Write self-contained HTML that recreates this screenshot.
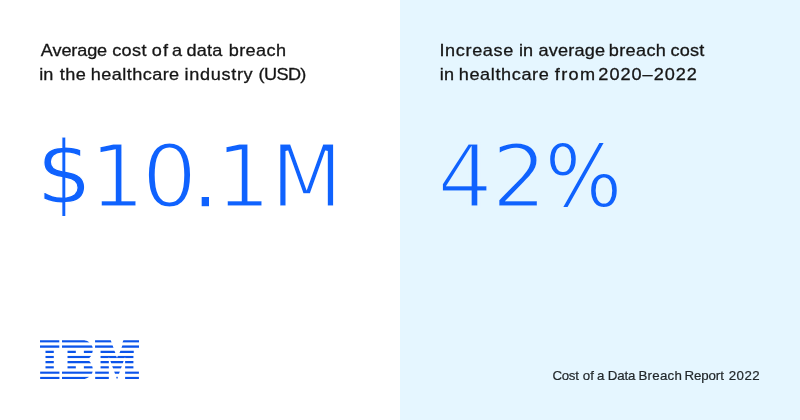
<!DOCTYPE html>
<html lang="en">
<head>
<meta charset="utf-8">
<title>Cost of a Data Breach Report 2022</title>
<style>
  html, body { margin: 0; padding: 0; }
  body {
    width: 800px; height: 420px; overflow: hidden; position: relative;
    background: #ffffff;
    font-family: "Liberation Sans", sans-serif;
    -webkit-font-smoothing: antialiased;
  }
  .panel { position: absolute; top: 0; width: 400px; height: 420px; }
  .left  { left: 0; background: #ffffff; }
  .right { left: 400px; background: #e5f6ff; }
  .heading {
    position: absolute; left: 40px; top: 39px; margin: 0;
    font-size: 17px; line-height: 24px; font-weight: 400;
    color: #161616; white-space: nowrap; will-change: transform;
    transform: scaleX(1.065); transform-origin: 0 0;
    -webkit-text-stroke: 0.3px #161616;
  }
  .heading > span { display: block; }
  .stat {
    position: absolute; left: 37.3px; top: 126.75px; margin: 0;
    font-family: "DejaVu Sans", "Liberation Sans", sans-serif;
    font-size: 87.2px; line-height: 100px; font-weight: 400;
    color: #0f62fe; white-space: nowrap;
    letter-spacing: -3.26px;
    -webkit-text-stroke: 2.8px #ffffff;
  }
  .stat span { position: relative; }
  .stat .cur { -webkit-text-stroke-width: 1.2px; left: -0.7px; top: -3.6px; }
  .stat .dot { letter-spacing: -6.2px; left: -2.4px; -webkit-text-stroke-width: 1.6px; }
  .stat .em  { left: 1.1px; display: inline-block; transform: scaleX(0.955); transform-origin: 50% 50%; letter-spacing: 0; }
  .stat .two { left: 2px; }
  .stat .pct { display: inline-block; transform: scaleX(0.935); transform-origin: 50% 50%; -webkit-text-stroke-width: 1.9px; letter-spacing: 0; }
  .right .stat { -webkit-text-stroke-color: #e5f6ff; }
  .logo { position: absolute; left: 40.3px; top: 340.25px; width: 99.1px; height: 39.2px; }
  .footer {
    position: absolute; left: 152.6px; top: 366px; margin: 0;
    font-size: 13.3px; line-height: 20px; letter-spacing: -0.05px;
    color: #21272a; white-space: nowrap; will-change: transform;
    -webkit-text-stroke: 0.2px #21272a;
  }
</style>
</head>
<body>
  <section class="panel left">
    <p class="heading" id="h1"><span class="l1"><span style="letter-spacing:-0.12px;margin-left:0.79px">Average</span> <span style="letter-spacing:0.37px;margin-left:0.06px">cost</span> <span style="letter-spacing:0.92px;margin-left:-0.11px">of</span> <span style="letter-spacing:0.15px;margin-left:-1.86px">a</span> <span style="letter-spacing:0.17px;margin-left:-0.73px">data</span> <span style="letter-spacing:0.37px;margin-left:1.10px">breach</span></span>
      <span class="l2"><span style="letter-spacing:-0.15px;margin-left:-0.65px">in</span> <span style="letter-spacing:0.50px;margin-left:1.46px">the</span> <span style="letter-spacing:0.40px;margin-left:-0.69px">healthcare</span> <span style="letter-spacing:0.62px;margin-left:0.01px">industry</span> <span style="letter-spacing:-0.59px;margin-left:0.24px">(USD)</span></span></p>
    <p class="stat" id="s1"><span class="cur">$</span>10<span class="dot">.</span>1<span class="em">M</span></p>
    <svg class="logo" id="logo" viewBox="0 0 1000 400" preserveAspectRatio="none" aria-label="IBM" role="img">
      <title>IBM</title>
      <defs><clipPath id="bars"><rect x="0" y="1.30" width="1000" height="24.77"/><rect x="0" y="54.52" width="1000" height="24.77"/><rect x="0" y="107.70" width="1000" height="24.77"/><rect x="0" y="160.97" width="1000" height="24.77"/><rect x="0" y="214.19" width="1000" height="24.77"/><rect x="0" y="267.41" width="1000" height="24.77"/><rect x="0" y="320.63" width="1000" height="24.77"/><rect x="0" y="373.89" width="1000" height="24.77"/></clipPath></defs>
      <path fill="#0b54ea" clip-path="url(#bars)" d="M0,0v27.367h194.648V0H0z M222.226,0v27.367h277.383c0,0-28.333-27.367-65.859-27.367H222.226z M555.468,0v27.367h167.812L713.32,0H555.468z M842.032,0l-9.961,27.367H1000V0H842.032z M0,53.222v27.367h194.648V53.222H0z M222.226,53.261v27.328h309.57c0,0-3.616-21.062-9.922-27.328H222.226z M555.468,53.222v27.367h186.406l-9.219-27.367H555.468z M831.289,53.222l-9.219,27.367H1000V53.222H831.289z M55.468,106.405v27.406h83.711v-27.406H55.468z M277.695,106.405v27.406h83.711v-27.406H277.695z M442.773,106.405v27.406h83.711c0,0,5.312-14.473,5.312-27.406H442.773z M610.937,106.405v27.406h149.492l-9.961-27.406H610.937z M812.11,106.405l-10,27.406h144.004v-27.406H812.11z M55.468,159.666v27.367h83.711v-27.367H55.468z M277.695,159.666v27.367h214.57c0,0,17.951-13.997,23.672-27.367H277.695z M610.937,159.666v27.367h83.711v-15.234l5.312,15.234h153.34l5.703-15.234v15.234h83.711v-27.367H785.351l-8.359,23.086l-8.398-23.086H610.937z M55.468,212.888v27.367h83.711v-27.367H55.468z M277.695,212.888v27.367h238.242c-5.721-13.326-23.672-27.367-23.672-27.367H277.695z M610.937,212.888v27.367h83.711v-27.367H610.937z M709.57,212.888l10.117,27.367h114.98l9.609-27.367H709.57z M859.004,212.888v27.367h83.711v-27.367H859.004z M55.468,266.11v27.367h83.711V266.11H55.468z M277.695,266.11v27.367h83.711V266.11H277.695z M442.773,266.11v27.367h89.023c0-12.916-5.312-27.367-5.312-27.367H442.773z M610.937,266.11v27.367h83.711V266.11H610.937z M728.476,266.11l9.883,27.367h77.617l9.961-27.367H728.476z M859.004,266.11v27.367h83.711V266.11H859.004z M1.446,319.331v27.406h194.648v-27.406H1.446z M222.226,319.331v27.406h299.648c6.306-6.276,9.922-27.406,9.922-27.406H222.226z M556.914,319.331v27.406h137.734v-27.406H556.914z M747.656,319.331l10.156,27.406h38.82l9.766-27.406H747.656z M859.004,319.331v27.406h139.219v-27.406H859.004z M1.446,372.592v27.367h194.648v-27.367H1.446z M222.226,372.592v27.328H433.75c37.526,0,65.859-27.328,65.859-27.328H222.226z M556.914,372.592v27.367h137.734v-27.367H556.914z M766.875,372.592l9.766,27.289l1.68,0.039l9.922-27.328H766.875z M859.004,372.592v27.367h139.219v-27.367H859.004z"/>
    </svg>
  </section>
  <section class="panel right">
    <p class="heading" id="h2"><span class="l1"><span style="letter-spacing:0.60px;margin-left:-0.57px">Increase</span> <span style="letter-spacing:0.14px;margin-left:-0.14px">in</span> <span style="letter-spacing:0.21px;margin-left:0.07px">average</span> <span style="letter-spacing:0.33px;margin-left:-1.54px">breach</span> <span style="letter-spacing:0.17px;margin-left:-0.76px">cost</span></span>
      <span class="l2"><span style="letter-spacing:0.19px;margin-left:-0.22px">in</span> <span style="letter-spacing:0.57px;margin-left:-0.54px">healthcare</span> <span style="letter-spacing:1.28px;margin-left:0.35px">from</span> <span style="letter-spacing:0.93px;margin-left:-2.94px">2020–2022</span></span></p>
    <p class="stat" id="s2">4<span class="two">2</span><span class="pct">%</span></p>
    <p class="footer" id="ft"><span style="letter-spacing:-0.32px;margin-left:-0.52px">Cost</span> <span style="letter-spacing:0.25px;margin-left:0.48px">of</span> <span style="letter-spacing:-0.05px;margin-left:-1.00px">a</span> <span style="letter-spacing:-0.17px;margin-left:-0.17px">Data</span> <span style="letter-spacing:0.27px;margin-left:-0.46px">Breach</span> <span style="letter-spacing:-0.11px;margin-left:-1.34px">Report</span> <span style="letter-spacing:0.45px;margin-left:1.29px">2022</span></p>
  </section>
</body>
</html>
